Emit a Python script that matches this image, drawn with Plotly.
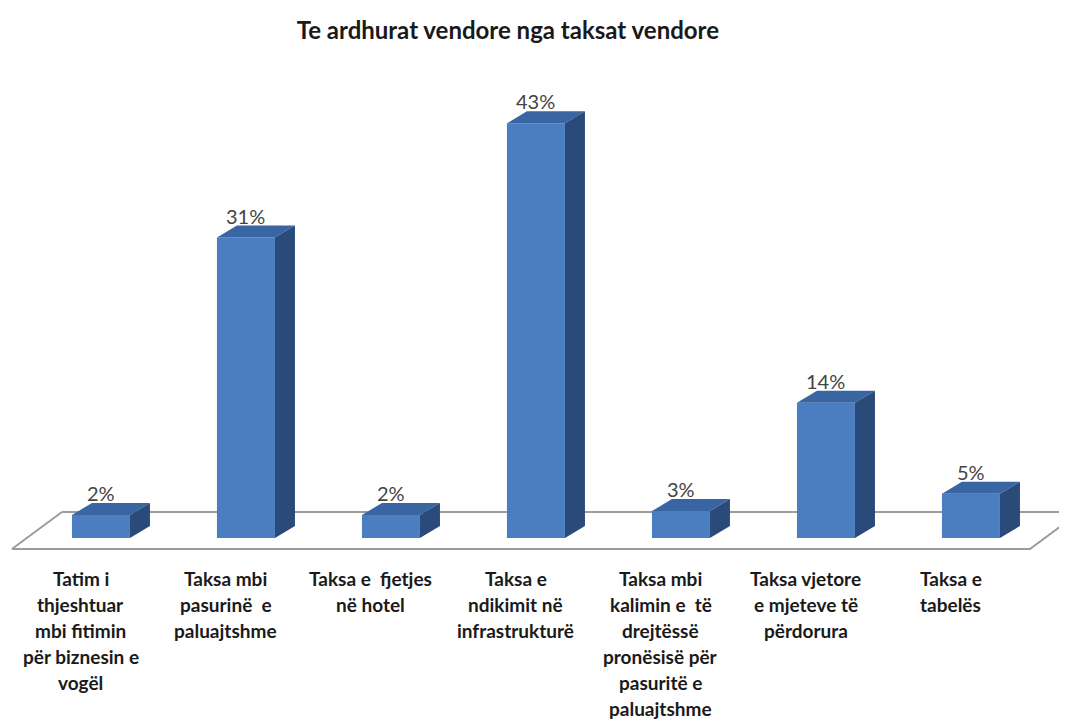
import plotly.graph_objects as go

# data
categories = [
    "Tatim i<br>thjeshtuar<br>mbi fitimin<br>për biznesin e<br>vogël",
    "Taksa mbi<br>pasurinë  e<br>paluajtshme",
    "Taksa e  fjetjes<br>në hotel",
    "Taksa e<br>ndikimit në<br>infrastrukturë",
    "Taksa mbi<br>kalimin e  të<br>drejtëssë<br>pronësisë për<br>pasuritë e<br>paluajtshme",
    "Taksa vjetore<br>e mjeteve të<br>përdorura",
    "Taksa e<br>tabelës",
]
shares = [2.4, 31.3, 2.4, 43.2, 2.8, 14.1, 4.6]

FRONT = "rgb(74,126,193)"
TOP = "rgb(58,101,163)"
SIDE = "rgb(42,74,122)"

xs = list(range(len(shares)))
w = 0.4      # bar width in category units
dx = 0.138   # 3d depth offsets
dy = 1.25

fig = go.Figure()

fig.add_trace(go.Bar(
    x=xs, y=shares, width=w,
    marker=dict(color=FRONT, line=dict(width=0)),
    hoverinfo="skip",
))

# top and side faces of the pseudo 3d columns
top_x, top_y, side_x, side_y = [], [], [], []
for x, v in zip(xs, shares):
    l, r = x - w / 2, x + w / 2
    top_x += [l, r, r + dx, l + dx, l, None]
    top_y += [v, v, v + dy, v + dy, v, None]
    side_x += [r, r + dx, r + dx, r, r, None]
    side_y += [0, dy, v + dy, v, 0, None]

fig.add_trace(go.Scatter(x=top_x, y=top_y, fill="toself", fillcolor=TOP,
                         mode="lines", line=dict(width=0), hoverinfo="skip"))
fig.add_trace(go.Scatter(x=side_x, y=side_y, fill="toself", fillcolor=SIDE,
                         mode="lines", line=dict(width=0), hoverinfo="skip"))

# floor of the 3d chart
floor_back, floor_front = 2.71, -1.15
fig.add_shape(type="path", layer="below",
              path=f"M -0.269 {floor_back} L 6.9 {floor_back} M -0.614 {floor_front} "
                   f"L 6.407 {floor_front} L 6.752 {floor_back} M -0.614 {floor_front} L -0.269 {floor_back}",
              line=dict(color="#9c9c9c", width=2))

annotations = []
for x, v in zip(xs, shares):
    annotations.append(dict(
        x=x, y=v + dy, xref="x", yref="y", text=f"{round(v)}%",
        showarrow=False, yanchor="bottom", yshift=-4,
        font=dict(family="Lato", size=20, color="#444444"),
    ))
# category labels, one annotation per line to get the wider line spacing
for x, c in zip(xs, categories):
    for k, line in enumerate(c.split("<br>")):
        annotations.append(dict(
            x=x, y=-2.8, xref="x", yref="y", text=line, xshift=-20, yshift=-26 * k,
            showarrow=False, yanchor="top", align="center",
            font=dict(family="Lato", size=19, color="#1a1a1a", weight="bold"),
        ))

fig.update_layout(
    width=1059, height=717,
    margin=dict(l=0, r=0, t=72, b=0),
    paper_bgcolor="white", plot_bgcolor="white",
    showlegend=False,
    title=dict(text="<b>Te ardhurat vendore nga taksat vendore</b>",
               x=0.472, xanchor="center", y=1 - 23 / 717, yanchor="middle",
               font=dict(family="Lato", size=24, color="#1a1a1a")),
    xaxis=dict(range=[-0.641, -0.641 + 1059 / 145], visible=False),
    yaxis=dict(range=[-19.48, 47.71], visible=False),
    annotations=annotations,
)

fig.write_html("out.html")
